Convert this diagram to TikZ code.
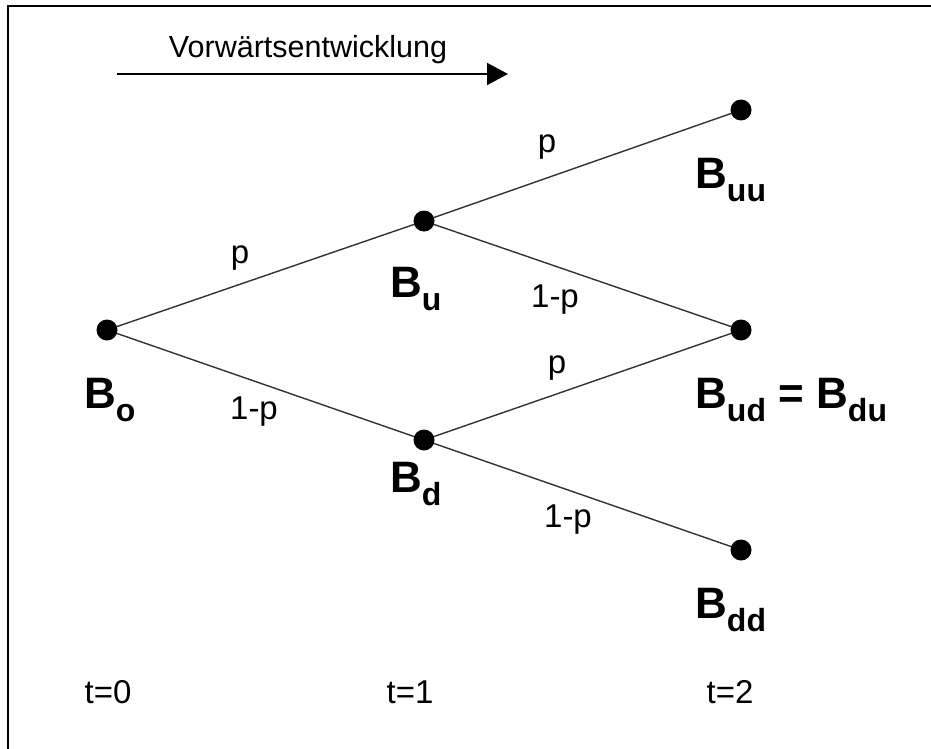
\documentclass[tikz,border=0pt]{standalone}
\usepackage{fontspec}
\setmainfont{Liberation Sans}
\usetikzlibrary{arrows.meta}
\newcommand{\sbs}[1]{\raisebox{-13pt}{\fontsize{32}{32}\selectfont\bfseries #1}}
\begin{document}
\begin{tikzpicture}[x=1pt,y=-1pt,
  dot/.style={circle,fill=black,inner sep=0pt,minimum size=21pt},
  edge/.style={line width=1.4pt,draw=black!80},
  lbl/.style={inner sep=0pt,font=\fontsize{33}{33}\selectfont},
  ttl/.style={inner sep=0pt,font=\fontsize{30.5}{30.5}\selectfont},
  bl/.style={inner sep=0pt,anchor=base west,font=\fontsize{44}{44}\selectfont\bfseries}]
\useasboundingbox (0,0) rectangle (931,749);
\draw[line width=2.5pt] (8,749) -- (8,6) -- (931,6);
% arrow
\coordinate (as) at (117,74);
\coordinate (ae) at (508,74);
\draw[line width=1.8pt,-{Triangle[length=21pt,width=22pt]}] (as) -- (ae);
\node[ttl] (title) at (308,50) {Vorwärtsentwicklung};
% dots
\node[dot] (b0) at (107,330) {};
\node[dot] (bu) at (424,221) {};
\node[dot] (bd) at (424,440) {};
\node[dot] (buu) at (741,110) {};
\node[dot] (bud) at (741,330) {};
\node[dot] (bdd) at (741,550) {};
% edges
\draw[edge] (b0) -- (bu);
\draw[edge] (b0) -- (bd);
\draw[edge] (bu) -- (buu);
\draw[edge] (bu) -- (bud);
\draw[edge] (bd) -- (bud);
\draw[edge] (bd) -- (bdd);
% edge labels
\node[lbl] (l1) at (240,258) {p};
\node[lbl] (l2) at (254,412) {1-p};
\node[lbl] (l3) at (547,147) {p};
\node[lbl] (l4) at (555,300) {1-p};
\node[lbl] (l5) at (557,368) {p};
\node[lbl] (l6) at (568,520) {1-p};
% node labels
\node[bl] (n0) at (84,408) {B\sbs{o}};
\node[bl] (nu) at (390,297) {B\sbs{u}};
\node[bl] (nd) at (390,492) {B\sbs{d}};
\node[bl] (nuu) at (695,188) {B\sbs{uu}};
\node[bl] (nud) at (695,408) {B\sbs{ud} = B\sbs{du}};
\node[bl] (ndd) at (695,618) {B\sbs{dd}};
% time labels
\node[lbl] (t0) at (108,692) {t=0};
\node[lbl] (t1) at (410,692) {t=1};
\node[lbl] (t2) at (730,692) {t=2};
\end{tikzpicture}
\end{document}
